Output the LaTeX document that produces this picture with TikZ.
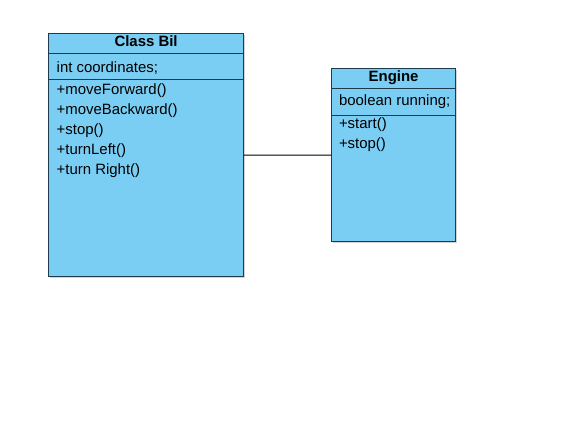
\documentclass[tikz,border=0pt]{standalone}
\usepackage{fontspec}
\setmainfont{Liberation Sans}
\usetikzlibrary{positioning,calc,shadows}
\definecolor{umlfill}{HTML}{7ACEF4}
\definecolor{umldraw}{HTML}{1F3A4D}

\begin{document}
\begin{tikzpicture}[
    x=1bp, y=-1bp,
    classbox/.style={rectangle, draw=umldraw, fill=umlfill, line width=1.2bp, inner sep=0pt, anchor=north west, drop shadow={shadow xshift=1bp, shadow yshift=-1bp, opacity=0.35, fill=gray}},
    title/.style={anchor=base, inner sep=0pt, font=\fontsize{15}{17}\selectfont\bfseries},
    member/.style={anchor=base west, inner sep=0pt, font=\fontsize{15}{17}\selectfont},
    sep/.style={draw=umldraw, line width=1bp},
    link/.style={draw=black, line width=1bp}
]
    \useasboundingbox (0,0) rectangle (584,432);

    % Class Bil
    \node[classbox, minimum width=195bp, minimum height=243bp] (bil) at (48,33) {};
    \node[title] (biltitle) at ($(bil.north)+(0,13.7)$) {Class Bil};
    \draw[sep] ([yshift=-20bp]bil.north west) -- ([yshift=-20bp]bil.north east);
    \node[member] (bilattr) at ($(bil.north west)+(8.5,39.5)$) {int coordinates;};
    \draw[sep] ([yshift=-46bp]bil.north west) -- ([yshift=-46bp]bil.north east);
    \node[member] (bilm1) at ($(bil.north west)+(8.5,61.3)$) {+moveForward()};
    \node[member] (bilm2) at ($(bil.north west)+(8.5,81.3)$) {+moveBackward()};
    \node[member] (bilm3) at ($(bil.north west)+(8.5,101.3)$) {+stop()};
    \node[member] (bilm4) at ($(bil.north west)+(8.5,121.3)$) {+turnLeft()};
    \node[member] (bilm5) at ($(bil.north west)+(8.5,141.3)$) {+turn Right()};

    % Engine
    \node[classbox, minimum width=124bp, minimum height=173bp] (engine) at (331,68) {};
    \node[title] (enginetitle) at ($(engine.north)+(0,13.7)$) {Engine};
    \draw[sep] ([yshift=-20bp]engine.north west) -- ([yshift=-20bp]engine.north east);
    \node[member] (engineattr) at ($(engine.north west)+(7.8,37)$) {boolean running;};
    \draw[sep] ([yshift=-47bp]engine.north west) -- ([yshift=-47bp]engine.north east);
    \node[member] (enginem1) at ($(engine.north west)+(7.8,60.3)$) {+start()};
    \node[member] (enginem2) at ($(engine.north west)+(7.8,80.3)$) {+stop()};

    % Association
    \draw[link] (bil.east) -- (engine.west);
\end{tikzpicture}
\end{document}
